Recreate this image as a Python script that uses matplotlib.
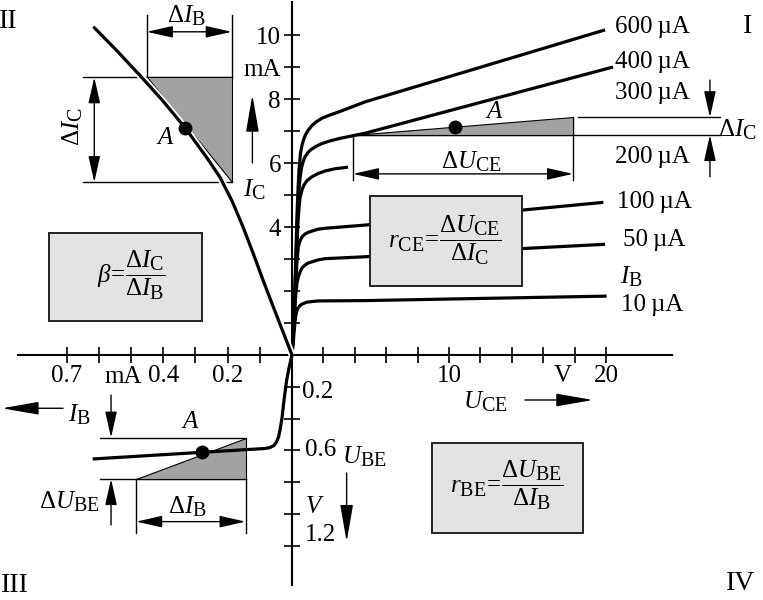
import matplotlib
matplotlib.use("Agg")
import matplotlib.pyplot as plt
import matplotlib.patheffects as pe
import matplotlib._mathtext as mathtext_core
from matplotlib.patches import Polygon, Rectangle

plt.rcParams["font.family"] = ["Liberation Serif", "DejaVu Serif"]
plt.rcParams["mathtext.fontset"] = "custom"
plt.rcParams["mathtext.rm"] = "Liberation Serif"
plt.rcParams["mathtext.it"] = "Liberation Serif:italic"
plt.rcParams["mathtext.bf"] = "Liberation Serif:bold"
plt.rcParams["font.size"] = 18
# subscripts in the book figure are a bit bigger than mathtext's default
mathtext_core.SHRINK_FACTOR = 0.8

#------------------------------------------------#
#  Quadrant I: output curves, U_CE (V) / I_C (mA) #
#------------------------------------------------#
uce_600 = [0, 0.064, 0.127, 0.191, 0.255, 0.318, 0.382, 0.446, 0.541, 0.637, 0.764,
           0.892, 1.038, 1.274, 1.529, 1.911, 2.420, 3.057, 4.650, 19.94]
ic_600 = [0, 0.625, 1.25, 2.19, 3.28, 4.375, 5.156, 5.78, 6.31, 6.56, 6.77,
          6.91, 7.03, 7.17, 7.28, 7.40, 7.50, 7.61, 7.91, 10.16]
uce_400 = [0, 0.064, 0.127, 0.191, 0.255, 0.318, 0.382, 0.446, 0.510, 0.605, 0.701,
           0.828, 1.019, 1.210, 1.529, 1.911, 2.420, 3.057, 4.650, 20.45]
ic_400 = [0, 0.625, 1.25, 2.03, 3.0, 3.91, 4.69, 5.16, 5.53, 5.84, 6.03,
          6.19, 6.33, 6.42, 6.52, 6.61, 6.69, 6.77, 6.93, 9.0]
uce_200 = [0, 0.064, 0.127, 0.191, 0.255, 0.318, 0.382, 0.446, 0.510, 0.637, 0.764,
           0.955, 1.274, 1.656, 2.102, 2.739, 3.567]
ic_200 = [0, 0.625, 1.16, 1.88, 2.66, 3.44, 4.16, 4.59, 4.91, 5.16, 5.31,
          5.45, 5.57, 5.67, 5.75, 5.82, 5.87]
uce_100 = [0, 0.064, 0.127, 0.191, 0.255, 0.318, 0.401, 0.510, 0.637, 0.828, 1.019,
           1.255, 1.656, 2.102, 4.650, 19.83]
ic_100 = [0, 0.53, 1.09, 1.72, 2.34, 2.91, 3.38, 3.56, 3.69, 3.78, 3.83,
          3.87, 3.93, 3.96, 4.06, 4.77]
uce_50 = [0, 0.064, 0.127, 0.191, 0.255, 0.318, 0.401, 0.510, 0.637, 0.828, 1.019,
          1.255, 1.656, 2.102, 4.650, 19.94]
ic_50 = [0, 0.47, 1.03, 1.56, 1.97, 2.25, 2.44, 2.59, 2.72, 2.81, 2.87,
         2.91, 2.97, 3.01, 3.07, 3.46]
uce_10 = [0, 0.064, 0.127, 0.191, 0.255, 0.350, 0.478, 0.637, 0.936, 1.274, 1.675,
          4.650, 20.04]
ic_10 = [0, 0.31, 0.69, 1.03, 1.28, 1.44, 1.53, 1.59, 1.65, 1.67, 1.69,
         1.70, 1.84]

# 300uA segment through working point A (triangle hypotenuse)
tri1_uce = [3.885, 17.90, 17.90]
tri1_ic = [6.875, 6.875, 7.43]
a1_uce, a1_ic = 10.38, 7.13

#------------------------------------------------#
#  Quadrant II: transfer curve, I_B (mA) / I_C    #
#------------------------------------------------#
ib_tr = [0.617, 0.543, 0.467, 0.401, 0.332, 0.264, 0.224, 0.186, 0.152,
         0.120, 0.090, 0.058, 0]
ic_tr = [10.26, 9.50, 8.68, 7.94, 7.10, 6.16, 5.56, 4.81, 4.00,
         3.16, 2.34, 1.50, 0]
tri2_ib = [0.451, 0.187, 0.187]
tri2_ic = [8.68, 8.68, 5.42]
a2_ib, a2_ic = 0.332, 7.10

#------------------------------------------------#
#  Quadrant III: input curve, I_B (mA) / U_BE (V) #
#------------------------------------------------#
ib_in = [0.619, 0.280, 0.0839, 0.0683, 0.0559, 0.0481, 0.0419, 0.0373, 0.031,
         0.0248, 0.0165, 0.0093, 0]
ube_in = [0.654, 0.612, 0.588, 0.582, 0.569, 0.547, 0.516, 0.472, 0.396,
          0.283, 0.157, 0.082, 0]
tri3_ib = [0.484, 0.144, 0.144]
tri3_ube = [0.780, 0.780, 0.520]
a3_ib, a3_ube = 0.280, 0.612

uce_ticks = [2, 4, 6, 8, 10, 12, 14, 16, 18, 20]
uce_ticklabels = ["", "", "", "", "10", "", "", "", "", "20"]
ic_ticks = [1, 2, 3, 4, 5, 6, 7, 8, 9, 10]
ic_ticklabels = ["", "", "", "4", "", "6", "", "8", "mA", "10"]
ib_ticks = [0.1, 0.2, 0.3, 0.4, 0.5, 0.6, 0.7]
ib_ticklabels = ["", "0.2", "", "0.4", "", "", "0.7"]
ube_ticks = [0.2, 0.4, 0.6, 0.8, 1.0, 1.2]

# pixel scales of the original drawing
W, H = 763, 600
OX, OY = 292, 355
PX_V, PX_MA_C, PX_MA_B, PX_V_BE = 15.7, 32.0, 322.0, 159.0

fig = plt.figure(figsize=(W / 100, H / 100), dpi=100)
ox, oy = OX / W, (H - OY) / H
ax1 = fig.add_axes([ox, oy, 1 - ox, 1 - oy])
ax2 = fig.add_axes([0, oy, ox, 1 - oy])
ax3 = fig.add_axes([0, 0, ox, oy])
ax4 = fig.add_axes([ox, 0, 1 - ox, oy])

ax1.set_xlim(0, (W - OX) / PX_V)
ax1.set_ylim(0, OY / PX_MA_C)
ax2.set_xlim(OX / PX_MA_B, 0)
ax2.set_ylim(0, OY / PX_MA_C)
ax3.set_xlim(OX / PX_MA_B, 0)
ax3.set_ylim((H - OY) / PX_V_BE, 0)
ax4.set_xlim(0, (W - OX) / PX_V)
ax4.set_ylim((H - OY) / PX_V_BE, 0)

for ax in (ax1, ax2, ax3, ax4):
    ax.patch.set_visible(False)
    for s in ax.spines.values():
        s.set_visible(False)
    ax.set_xticks([])
    ax.set_yticks([])

lw_ax = 1.5
ax1.spines["left"].set_visible(True)
ax1.spines["left"].set_bounds(0, 11.03)
ax1.spines["bottom"].set_visible(True)
ax1.spines["bottom"].set_bounds(0, 24.2)
ax2.spines["bottom"].set_visible(True)
ax2.spines["bottom"].set_bounds(0, 0.851)
ax4.spines["left"].set_visible(True)
ax4.spines["left"].set_bounds(0, 1.447)
for ax, side in ((ax1, "left"), (ax1, "bottom"), (ax2, "bottom"), (ax4, "left")):
    ax.spines[side].set_linewidth(lw_ax)

tick_kw = dict(direction="inout", length=11, width=1.2, labelsize=18)
ax1.set_xticks(uce_ticks, uce_ticklabels)
ax1.tick_params(axis="x", pad=1.5, **tick_kw)
ax1.set_yticks(ic_ticks, ic_ticklabels)
ax1.tick_params(axis="y", pad=2.5, **tick_kw)
ax2.set_xticks(ib_ticks, ib_ticklabels)
ax2.tick_params(axis="x", pad=1.5, **tick_kw)
ax4.set_yticks(ube_ticks, [""] * len(ube_ticks))
ax4.tick_params(axis="y", **tick_kw)

curve_kw = dict(color="black", lw=2.3, clip_on=False, solid_capstyle="butt",
                solid_joinstyle="round")
thin = dict(color="black", lw=1.0, clip_on=False)
tri_kw = dict(facecolor="#a2a2a2", edgecolor="black", lw=0.8, zorder=3)
box_kw = dict(facecolor="#e3e3e3", edgecolor="#222222", lw=1.4, zorder=4)


def arrow(ax, start, end, both=False, long=False):
    style = "<|-|>" if both else "-|>"
    head = ",head_length=2.3,head_width=0.4" if long else ",head_length=1.6,head_width=0.36"
    ax.annotate("", xy=end, xytext=start,
                arrowprops=dict(arrowstyle=style + head, mutation_scale=10,
                                color="black", lw=1.0, shrinkA=0, shrinkB=0),
                annotation_clip=False)


#--------------#
#  Quadrant I  #
#--------------#
for u, i in ((uce_600, ic_600), (uce_400, ic_400), (uce_200, ic_200),
             (uce_100, ic_100), (uce_50, ic_50), (uce_10, ic_10)):
    ax1.plot(u, i, **curve_kw)
ax1.add_patch(Polygon(list(zip(tri1_uce, tri1_ic)), closed=True, **tri_kw))
ax1.plot(a1_uce, a1_ic, "o", color="black", ms=9, zorder=5)
ax1.text(12.87, 7.6, "$A$", ha="center", va="center")

ax1.plot([tri1_uce[0], 27.26], [tri1_ic[0], tri1_ic[0]], **thin)
ax1.plot([18.24, 27.26], [tri1_ic[2], tri1_ic[2]], **thin)
ax1.plot([tri1_uce[0], tri1_uce[0]], [tri1_ic[0], 5.47], **thin)
ax1.plot([tri1_uce[1], tri1_uce[1]], [tri1_ic[2], 5.47], **thin)
arrow(ax1, (tri1_uce[0], 5.66), (tri1_uce[1], 5.66), both=True)
ax1.text(11.45, 6.04, r"$\Delta U_{\rm CE}$", ha="center", va="center")
arrow(ax1, (26.62, 8.59), (26.62, tri1_ic[2]))
arrow(ax1, (26.62, 5.57), (26.62, tri1_ic[0]))
ax1.text(27.15, 7.03, r"$\Delta I_{\rm C}$", ha="left", va="center")

ax1.text(20.57, 10.26, "600\u2009µA", ha="left", va="center")
ax1.text(20.57, 9.17, "400\u2009µA", ha="left", va="center")
ax1.text(20.57, 8.18, "300\u2009µA", ha="left", va="center")
ax1.text(20.57, 6.20, "200\u2009µA", ha="left", va="center")
ax1.text(20.68, 4.79, "100\u2009µA", ha="left", va="center")
ax1.text(21.06, 3.59, "50\u2009µA", ha="left", va="center")
ax1.text(20.9, 2.45, r"$I_{\rm B}$", ha="left", va="center")
ax1.text(20.94, 1.56, "10\u2009µA", ha="left", va="center")
ax1.text(17.26, -0.31, "V", ha="center", va="top")
ax1.text(29.0, 10.28, "I", ha="center", va="center", fontsize=20)

ax1.add_patch(Rectangle((4.97, 2.17), 9.70, 2.80, **box_kw))
ax1.text(9.75, 3.59, r"$r_{\rm CE}\!=\!\dfrac{\Delta U_{\rm CE}}{\Delta I_{\rm C}}$",
         ha="center", va="center", zorder=5)

#---------------#
#  Quadrant II  #
#---------------#
ax2.add_patch(Polygon(list(zip(tri2_ib, tri2_ic)), closed=True, **tri_kw))
ax2.plot(ib_tr, ic_tr, zorder=4,
         path_effects=[pe.Stroke(linewidth=5, foreground="white"), pe.Normal()],
         **curve_kw)
ax2.plot(a2_ib, a2_ic, "o", color="black", ms=9, zorder=5)
ax2.text(0.394, 6.78, "$A$", ha="center", va="center")

ax2.plot([0.648, tri2_ib[1]], [tri2_ic[0], tri2_ic[0]], **thin)
ax2.plot([0.648, tri2_ib[1]], [5.40, 5.40], **thin)
arrow(ax2, (0.614, tri2_ic[0]), (0.614, 5.40), both=True)
ax2.text(0.680, 7.125, r"$\Delta I_{\rm C}$", ha="center", va="center", rotation=90)
ax2.plot([tri2_ib[0], tri2_ib[0]], [tri2_ic[0], 10.63], **thin)
ax2.plot([tri2_ib[1], tri2_ib[1]], [tri2_ic[0], 10.63], **thin)
arrow(ax2, (tri2_ib[0], 10.10), (tri2_ib[1], 10.10), both=True)
ax2.text(0.327, 10.59, r"$\Delta I_{\rm B}$", ha="center", va="center")
arrow(ax2, (0.123, 6.0), (0.123, 8.125), long=True)
ax2.text(0.118, 5.16, r"$I_{\rm C}$", ha="center", va="center")
ax2.text(0.525, -0.33, "mA", ha="center", va="top")
ax2.text(0.882, 10.42, "II", ha="center", va="center", fontsize=20)

ax2.add_patch(Rectangle((0.279, 1.06), 0.475, 2.76, **box_kw))
ax2.text(0.50, 2.48, r"$\beta\!=\!\dfrac{\Delta I_{\rm C}}{\Delta I_{\rm B}}$",
         ha="center", va="center", zorder=5)

#----------------#
#  Quadrant III  #
#----------------#
ax3.add_patch(Polygon(list(zip(tri3_ib, tri3_ube)), closed=True, **tri_kw))
ax3.plot(ib_in, ube_in, zorder=4, **curve_kw)
ax3.plot(a3_ib, a3_ube, "o", color="black", ms=9, zorder=5)
ax3.text(0.317, 0.42, "$A$", ha="center", va="center")

ax3.plot([0.596, tri3_ib[1]], [tri3_ube[2], tri3_ube[2]], **thin)
ax3.plot([0.596, tri3_ib[1]], [tri3_ube[0], tri3_ube[0]], **thin)
arrow(ax3, (0.562, 0.252), (0.562, tri3_ube[2]))
arrow(ax3, (0.562, 1.069), (0.562, tri3_ube[0]))
ax3.text(0.596, 0.923, r"$\Delta U_{\rm BE}$", ha="right", va="center")
ax3.plot([tri3_ib[0], tri3_ib[0]], [tri3_ube[0], 1.12], **thin)
ax3.plot([tri3_ib[1], tri3_ib[1]], [tri3_ube[0], 1.12], **thin)
arrow(ax3, (tri3_ib[0], 1.048), (tri3_ib[1], 1.048), both=True)
ax3.text(0.325, 0.954, r"$\Delta I_{\rm B}$", ha="center", va="center")
arrow(ax3, (0.711, 0.335), (0.901, 0.335), long=True)
ax3.text(0.696, 0.377, r"$I_{\rm B}$", ha="left", va="center")
ax3.text(0.860, 1.447, "III", ha="center", va="center", fontsize=20)

#---------------#
#  Quadrant IV  #
#---------------#
ax4.text(0.64, 0.231, "0.2", ha="left", va="center")
ax4.text(0.83, 0.597, "0.6", ha="left", va="center")
ax4.text(0.83, 0.954, "$V$", ha="left", va="center")
ax4.text(0.83, 1.132, "1.2", ha="left", va="center")
ax4.text(3.17, 0.64, r"$U_{\rm BE}$", ha="left", va="center")
arrow(ax4, (3.48, 0.742), (3.48, 1.174), long=True)
ax4.text(10.9, 0.294, r"$U_{\rm CE}$", ha="left", va="center")
arrow(ax4, (14.84, 0.283), (19.17, 0.283), long=True)
ax4.text(28.6, 1.44, "IV", ha="center", va="center", fontsize=20)

ax4.add_patch(Rectangle((8.90, 0.555), 9.65, 0.563, **box_kw))
ax4.text(13.67, 0.818, r"$r_{\rm BE}\!=\!\dfrac{\Delta U_{\rm BE}}{\Delta I_{\rm B}}$",
         ha="center", va="center", zorder=5)

fig.savefig("out.png", dpi=100)
